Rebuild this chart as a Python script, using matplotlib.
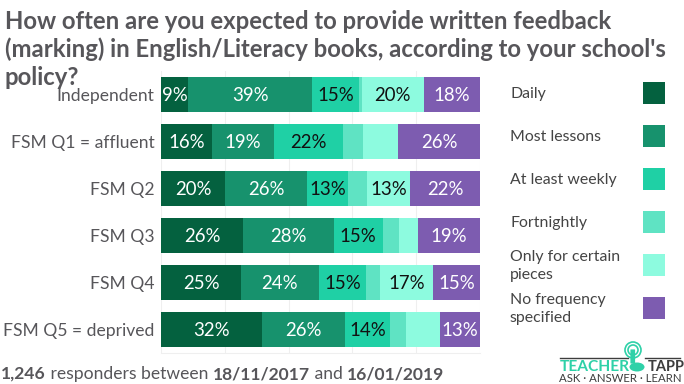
import matplotlib
matplotlib.use("Agg")
import matplotlib.pyplot as plt
from matplotlib.patches import Rectangle, Circle, Ellipse, FancyBboxPatch

plt.rcParams['font.family'] = ['Lato', 'DejaVu Sans']

W, H = 684, 384

groups = ['Independent', 'FSM Q1 = affluent', 'FSM Q2', 'FSM Q3', 'FSM Q4', 'FSM Q5 = deprived']
daily = [8.6, 16.0, 20.1, 25.7, 25.1, 31.7]
most_lessons = [38.8, 19.4, 25.7, 28.4, 24.4, 26.0]
weekly = [14.6, 21.6, 12.9, 15.4, 14.8, 14.1]
fortnightly = [0.9, 6.3, 6.0, 5.0, 4.4, 5.0]
certain_pieces = [19.5, 11.0, 13.4, 6.1, 16.6, 10.6]
no_frequency = [17.6, 25.7, 21.9, 19.4, 14.7, 12.6]

series = [daily, most_lessons, weekly, fortnightly, certain_pieces, no_frequency]
colors = ['#04613f', '#17926d', '#1fd0a5', '#5fe3c3', '#8dfbdf', '#7d5cb0']
label_colors = ['white', 'white', '#111111', '#111111', '#111111', 'white']
legend_names = ['Daily', 'Most lessons', 'At least weekly', 'Fortnightly',
                'Only for certain\npieces', 'No frequency\nspecified']
ticks = [0, 20, 40, 60, 80, 100]

GREY = '#57565a'


def px(x, y):
    # pixel position (from top left) to figure fraction
    return x / W, 1 - y / H


fig = plt.figure(figsize=(W / 100, H / 100), dpi=100, facecolor='white')

x0, y0 = px(161, 353)
x1, y1 = px(480, 71)
ax = fig.add_axes([x0, y0, x1 - x0, y1 - y0])

left = [0] * len(groups)
for i, vals in enumerate(series):
    ax.barh(range(len(groups)), vals, left=left, height=0.745, color=colors[i], zorder=2)
    for j, v in enumerate(vals):
        if i == 0 or v >= 12:
            ax.text(left[j] + v / 2, j - 0.02, f'{v:.0f}%', ha='center', va='center_baseline',
                    color=label_colors[i], fontsize=13.4, zorder=3)
    left = [a + b for a, b in zip(left, vals)]

ax.set_xlim(0, 100)
ax.set_ylim(len(groups) - 0.5, -0.5)
ax.set_xticks(ticks)
ax.set_xticklabels([])
ax.set_yticks(range(len(groups)))
ax.set_yticklabels(groups, fontsize=12.6, color=GREY)
ax.tick_params(axis='both', length=0)
ax.tick_params(axis='y', pad=4.5)
ax.grid(axis='x', color='#efefef', lw=0.8, zorder=0)
ax.set_axisbelow(True)
for name in ['top', 'right', 'left']:
    ax.spines[name].set_visible(False)
ax.spines['bottom'].set_color('#efefef')

# title, drawn above the axes like the original where it runs into the first label
title = ['How often are you expected to provide written feedback',
         '(marking) in English/Literacy books, according to your school\'s',
         'policy?']
for line, base in zip(title, [29, 57, 85]):
    x, y = px(5, base)
    t = fig.text(x, y, line, fontsize=17.2, fontweight='bold', color=GREY, va='baseline', zorder=5)
    t.set_in_layout(False)

# legend
swatch_tops = [82, 125, 168, 211, 254, 297]
for name, c, top in zip(legend_names, colors, swatch_tops):
    x, y = px(643, top + 22)
    fig.add_artist(Rectangle((x, y), 22 / W, 22 / H, transform=fig.transFigure, color=c, lw=0))
    x, y = px(510, top + 12)
    fig.text(x, y, name, fontsize=11.4, color='#444444', va='center', linespacing=1.35)

# footer with bold parts
runs = [('1,246', 'bold'), (' responders between ', 'normal'), ('18/11/2017', 'bold'),
        (' and ', 'normal'), ('16/01/2019', 'bold')]
renderer = fig.canvas.get_renderer()
pos = 1
for s, weight in runs:
    x, y = px(pos, 379)
    t = fig.text(x, y, s.replace(' ', '\u00a0'), fontsize=12.6, fontweight=weight, color=GREY, va='baseline')
    pos += t.get_window_extent(renderer).width

# logo
TEAL = '#2ed1a8'
DARK = '#3d3d3d'
x, y = px(560, 371)
fig.text(x, y, 'TEACHER', fontsize=11.2, fontweight='bold', color=TEAL, va='baseline')
x, y = px(648, 371)
fig.text(x, y, 'TAPP', fontsize=10.5, fontweight='bold', color=DARK, va='baseline')
x, y = px(559, 382)
fig.text(x, y, 'ASK · ANSWER · LEARN', fontsize=8.2, color=DARK, va='baseline')
overlay = fig.add_axes([0, 0, 1, 1], facecolor='none', zorder=6)
overlay.set_xlim(0, W)
overlay.set_ylim(H, 0)
overlay.axis('off')
overlay.plot([560, 628], [357.5, 357.5], color=DARK, lw=1)
overlay.plot([645, 680], [357.5, 357.5], color=DARK, lw=1)
for r, lw in [(8, 1.2), (5, 1.2)]:
    overlay.add_patch(Circle((633, 350), r, fill=False, ec=TEAL, lw=lw))
overlay.add_patch(FancyBboxPatch((631, 350), 3.5, 13, boxstyle='round,pad=0.6', color=TEAL, lw=0))
overlay.add_patch(Ellipse((637, 367), 15, 9, color=TEAL, lw=0))

fig.savefig('out.png', dpi=100)
